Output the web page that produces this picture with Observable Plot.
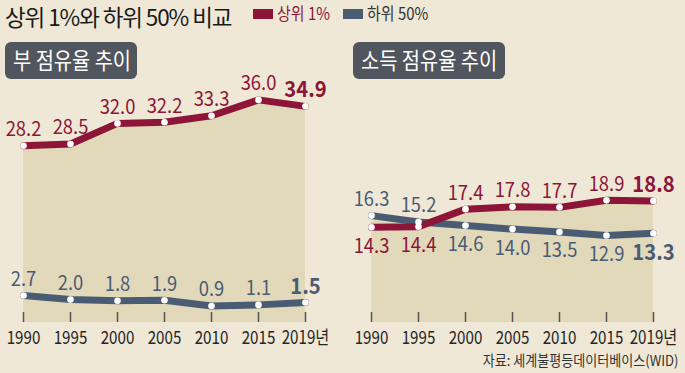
<!DOCTYPE html>
<html><head><meta charset="utf-8">
<script src="https://cdn.jsdelivr.net/npm/d3@7"></script>
<script src="https://cdn.jsdelivr.net/npm/@observablehq/plot@0.6"></script>
<style>
html,body{margin:0;padding:0;background:#efe8d7;}
#wrap{position:relative;width:685px;height:373px;overflow:hidden;background:#efe8d7;font-family:"Noto Sans CJK KR","Noto Sans",sans-serif;}
.abs{position:absolute;white-space:nowrap;}
#title{left:5px;top:3px;font-size:22.5px;line-height:26px;font-weight:400;letter-spacing:-1.1px;color:#1a1a1a;}
.sw{position:absolute;width:20px;height:10px;}
.lg{font-size:17px;line-height:20px;transform:scaleX(0.88);transform-origin:0 0;}
.box{position:absolute;top:42px;height:37px;background:#51555d;border-radius:6px;}
.box span{position:absolute;left:8px;top:2px;font-size:23px;line-height:30px;color:#fff;transform:scaleX(0.86);transform-origin:0 0;white-space:nowrap;}
#caption{right:7px;top:351px;font-size:14.5px;line-height:18px;color:#333;transform:scaleX(0.9);transform-origin:100% 0;}
.panel{position:absolute;top:80px;}
</style></head>
<body>
<div id="wrap">
  <div id="title" class="abs">상위 1%와 하위 50% 비교</div>
  <div class="sw" style="left:253px;top:9px;background:#8c1538"></div>
  <div class="abs lg" style="left:277px;top:3px;color:#8c1538">상위 1%</div>
  <div class="sw" style="left:343px;top:9px;background:#4a5c74"></div>
  <div class="abs lg" style="left:367px;top:3px;color:#333">하위 50%</div>
  <div class="box" style="left:5px;width:132px"><span>부 점유율 추이</span></div>
  <div class="box" style="left:353px;width:152px"><span>소득 점유율 추이</span></div>
  <div id="left" class="panel" style="left:0px"></div>
  <div id="right" class="panel" style="left:340px"></div>
  <div id="caption" class="abs">자료: 세계불평등데이터베이스(WID)</div>
</div>
<script>
const years = ["1990","1995","2000","2005","2010","2015","2019"];
const tickLabels = ["1990","1995","2000","2005","2010","2015","2019년"];
const seriesNames = ["상위 1%","하위 50%"];
const wealthTop1 = [28.2,28.5,32.0,32.2,33.3,36.0,34.9];
const wealthBottom50 = [2.7,2.0,1.8,1.9,0.9,1.1,1.5];
const incomeTop1 = [14.3,14.4,17.4,17.8,17.7,18.9,18.8];
const incomeBottom50 = [16.3,15.2,14.6,14.0,13.5,12.9,13.3];

const RED = "#8c1538", BLUE = "#4a5c74", AREA = "#e2d9bb";
const yDomain = [-1.9, 39.3];
const H = 270, MB = 28, MT = 0;
const FONT = "'Noto Sans CJK KR','Noto Sans',sans-serif";

function squeeze(svg, selector, k) {
  svg.querySelectorAll(selector).forEach(el => {
    const t = el.getAttribute("transform") || "";
    el.setAttribute("transform", t + ` scale(${k},1)`);
  });
}

function panel(topVals, botVals, opts) {
  const rows = years.map((y,i)=>({year:y, top:topVals[i], bot:botVals[i]}));
  const long = [];
  rows.forEach((r,i)=>{
    long.push({year:r.year, series:seriesNames[1], value:r.bot, other:r.top, last:i===years.length-1});
  });
  rows.forEach((r,i)=>{
    long.push({year:r.year, series:seriesNames[0], value:r.top, other:r.bot, last:i===years.length-1});
  });
  const above = d => opts.allAbove || d.value >= d.other;
  const frameH = H - MT - MB;
  const textOpts = {x:"year", y:"value", text:d=>d.value.toFixed(1), fill:"series"};
  const svg = Plot.plot({
    width: opts.width, height: H,
    marginTop: MT, marginBottom: MB, marginLeft: opts.ml, marginRight: opts.mr,
    style:{background:"transparent", overflow:"visible", fontFamily:FONT},
    x:{type:"point", domain:years, padding:0, label:null},
    y:{domain:yDomain, axis:null},
    color:{domain:seriesNames, range:[RED, BLUE]},
    marks:[
      Plot.areaY(rows, {x:"year", y1:()=>yDomain[0], y2:d=>Math.max(d.top,d.bot), fill:AREA, curve:"linear"}),
      Plot.tickX(years, {x:d=>d, stroke:"#555", strokeWidth:1.5, insetTop: frameH - 10}),
      Plot.axisX({tickSize:0, tickPadding:8, fontSize:18.5, fill:"#262626", label:null, tickFormat:d=>tickLabels[years.indexOf(d)]}),
      Plot.line(long, {x:"year", y:"value", z:"series", stroke:"series", strokeWidth:7, strokeLinecap:"round", strokeLinejoin:"round"}),
      Plot.dot(long, {x:"year", y:"value", r:3.3, fill:"white"}),
      Plot.text(long.filter(d=>above(d) && !d.last), {...textOpts, dy:-16, fontSize:20}),
      Plot.text(long.filter(d=>!above(d) && !d.last), {...textOpts, dy:19, fontSize:20}),
      Plot.text(long.filter(d=>above(d) && d.last), {...textOpts, dy:-16, fontSize:22, fontWeight:"bold"}),
      Plot.text(long.filter(d=>!above(d) && d.last), {...textOpts, dy:20, fontSize:22, fontWeight:"bold"})
    ]
  });
  squeeze(svg, "g[aria-label='x-axis tick label'] text", 0.82);
  squeeze(svg, "g[aria-label='text'] text", 0.92);
  return svg;
}

document.getElementById("left").appendChild(panel(wealthTop1, wealthBottom50, {width:340, ml:20, mr:33, allAbove:true}));
document.getElementById("right").appendChild(panel(incomeTop1, incomeBottom50, {width:345, ml:29, mr:30, allAbove:false}));
</script>
</body></html>
